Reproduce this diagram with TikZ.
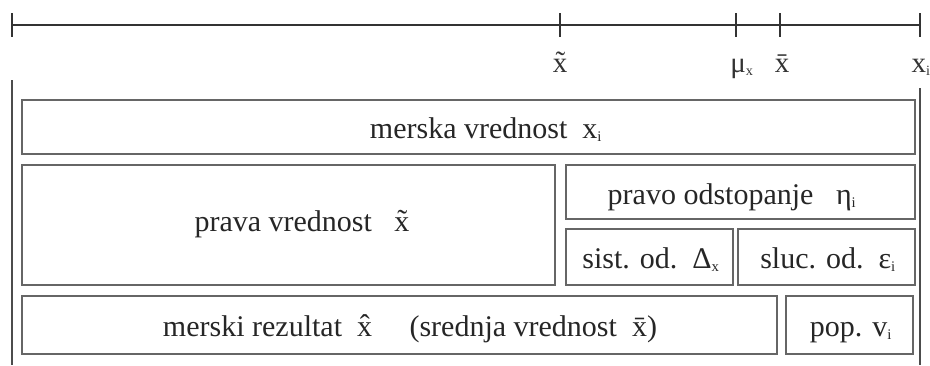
\documentclass[tikz,border=0pt]{standalone}
\usepackage{fontspec}
\setmainfont{Liberation Serif}
\newcommand{\sbs}[1]{\textsubscript{\scalebox{0.7}{#1}}}
\begin{document}
\begin{tikzpicture}[x=1pt,y=-1pt,
  axisline/.style={line width=2pt,black!80},
  tick/.style={line width=2pt,black!80},
  frameline/.style={line width=2.6pt,black!70},
  field/.style={line width=1.6pt,black!60},
  lbl/.style={font=\fontsize{30}{34}\selectfont,text=black!85,inner sep=0pt,anchor=base},
  ticklbl/.style={font=\fontsize{29}{32}\selectfont,text=black!80,inner sep=0pt,anchor=base}]
\useasboundingbox (0,0) rectangle (930,365);
% axis with tick marks
\coordinate (a0) at (12,25);
\coordinate (a4) at (920,25);
\draw[axisline] (a0) -- (a4);
\foreach \t/\px in {t0/12,t1/560,t2/736,t3/780,t4/920}
  \draw[tick] (\px,13) coordinate (\t) -- (\px,37);
\node[ticklbl] (lx) at (560,72) {\~{x}};
\node[ticklbl] (lmu) at (742,72) {μ\sbs{x}};
\node[ticklbl] (lbar) at (782,72) {\={x}};
\node[ticklbl] (lxi) at (921,72) {x\sbs{i}};
% side frame
\draw[frameline] (12,80) coordinate (fl1) -- (12,365) coordinate (fl2);
\draw[frameline] (920,88) coordinate (fr1) -- (920,365) coordinate (fr2);
% fields
\draw[field] (22,100) rectangle (915,154);
\draw[field] (22,165) rectangle (555,285);
\draw[field] (566,165) rectangle (915,219);
\draw[field] (566,229) rectangle (733,285);
\draw[field] (738,229) rectangle (915,285);
\draw[field] (22,296) rectangle (777,354);
\draw[field] (786,296) rectangle (913,354);
% labels
\node[lbl] (mv) at (486,138) {merska vrednost\ \ x\sbs{i}};
\node[lbl] (pv) at (302,231) {prava vrednost\ \ \ \~{x}};
\node[lbl] (po) at (732,204) {pravo odstopanje\ \ \ η\sbs{i}};
\node[lbl] (so) at (651,268) {sist. od.\ \ Δ\sbs{x}};
\node[lbl] (sl) at (828,268) {sluc. od.\ \ ε\sbs{i}};
\node[lbl] (mr) at (410,336) {merski rezultat\ \ \^{x}\ \ \ \ \ (srednja vrednost\ \ \={x})};
\node[lbl] (pp) at (851,336) {pop. v\sbs{i}};
\end{tikzpicture}
\end{document}
